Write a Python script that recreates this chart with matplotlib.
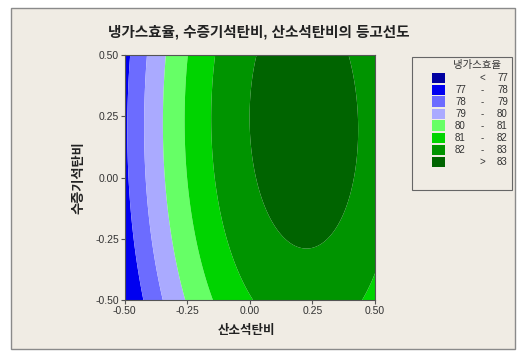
"""
냉가스효율 등고선도 (Minitab 스타일 재현)
"""
import numpy as np
import matplotlib
matplotlib.use('Agg')
import matplotlib.pyplot as plt
from matplotlib.patches import Rectangle

plt.rcParams['font.family'] = ['Liberation Sans', 'Noto Sans CJK KR', 'DejaVu Sans']

# 반응표면 계수
# z = b0 + b1*x + b2*y + b11*x^2 + b22*y^2 + b12*x*y + b112*x^2*y
terms = ['b0', 'b1', 'b2', 'b11', 'b22', 'b12', 'b112']
coefs = [82.89, 4.80, 0.94, -10.9, -1.92, -0.04, -0.9]

# 등고선 구간
levels = [70, 77, 78, 79, 80, 81, 82, 83, 95]
band_colors = ['#0000A0', '#0000F0', '#6C6CFF', '#AAAAFF',
               '#66FF66', '#00D400', '#009400', '#006400']
legend_labels = [('', '<', '77'), ('77', '-', '78'), ('78', '-', '79'),
                 ('79', '-', '80'), ('80', '-', '81'), ('81', '-', '82'),
                 ('82', '-', '83'), ('', '>', '83')]

ticks = [-0.50, -0.25, 0.00, 0.25, 0.50]
title = '냉가스효율, 수증기석탄비, 산소석탄비의 등고선도'
xlabel = '산소석탄비'
ylabel = '수증기석탄비'
legend_title = '냉가스효율'

bg = '#F0ECE4'
W, H = 521, 351

fig = plt.figure(figsize=(W / 100, H / 100), dpi=100, facecolor='white')

# 바깥 프레임
fig.patches.append(Rectangle((11 / W, 2 / H), 504 / W, 341 / H,
                             transform=fig.transFigure, facecolor=bg,
                             edgecolor='#8A8A8A', linewidth=1.0, zorder=-10))

ax = fig.add_axes([124.7 / W, 1 - 300 / H, 250.3 / W, 245 / H])
ax.set_zorder(5)

x = np.linspace(-0.5, 0.5, 300)
y = np.linspace(-0.5, 0.5, 300)
X, Y = np.meshgrid(x, y)
b = dict(zip(terms, coefs))
Z = (b['b0'] + b['b1'] * X + b['b2'] * Y + b['b11'] * X ** 2
     + b['b22'] * Y ** 2 + b['b12'] * X * Y + b['b112'] * X ** 2 * Y)

ax.contourf(X, Y, Z, levels=levels, colors=band_colors, antialiased=True)
ax.set_xlim(-0.5, 0.5)
ax.set_ylim(-0.5, 0.5)
ax.set_xticks(ticks)
ax.set_yticks(ticks)
ax.set_xticklabels([f'{t:.2f}' for t in ticks], fontsize=7.5, color='#333333')
ax.set_yticklabels([f'{t:.2f}' for t in ticks], fontsize=7.5, color='#333333')
ax.tick_params(direction='out', length=3, width=0.8, color='#555555', pad=1)
for s in ax.spines.values():
    s.set_color('#555555')
    s.set_linewidth(0.8)

fig.text(259 / W, 1 - 32 / H, title, fontsize=10.5, fontweight='bold',
         ha='center', va='center', color='#222222')
fig.text(246 / W, 1 - 331 / H, xlabel, fontsize=9, fontweight='bold',
         ha='center', va='center', color='#222222')
fig.text(79 / W, 1 - 178 / H, ylabel, fontsize=9.5, fontweight='bold',
         ha='center', va='center', rotation=90, color='#222222')

# 범례
fig.patches.append(Rectangle((412 / W, 1 - 190 / H), 100 / W, 133 / H,
                             transform=fig.transFigure, facecolor=bg,
                             edgecolor='#666666', linewidth=0.8, zorder=1))
fig.text(477 / W, 1 - 65 / H, legend_title, fontsize=7.5,
         ha='center', va='center', color='#333333', zorder=3)
for i, (lo, sym, hi) in enumerate(legend_labels):
    yc = 78 + i * 12
    fig.patches.append(Rectangle((432 / W, 1 - (yc + 5) / H), 13 / W, 10.5 / H,
                                 transform=fig.transFigure,
                                 facecolor=band_colors[i], edgecolor='none',
                                 zorder=2))
    if lo:
        fig.text(455 / W, 1 - yc / H, lo, fontsize=7, ha='left',
                 va='center', color='#333333', zorder=3)
    fig.text(482 / W, 1 - yc / H, sym, fontsize=7, ha='center',
             va='center', color='#333333', zorder=3)
    fig.text(497 / W, 1 - yc / H, hi, fontsize=7, ha='left',
             va='center', color='#333333', zorder=3)

fig.savefig('out.png', dpi=100, facecolor='white')
